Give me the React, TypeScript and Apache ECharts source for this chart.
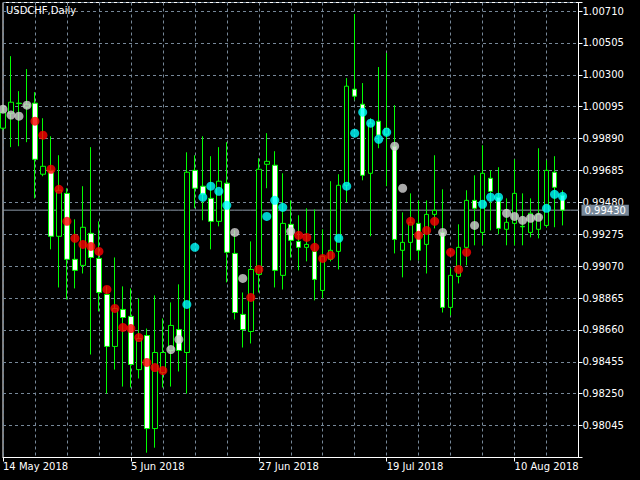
import React, { useEffect, useRef } from 'react';
import * as echarts from 'echarts';

const FONT = 'DejaVu Sans';
const chartTitle = 'USDCHF,Daily';
const startDate = '2018-05-14';
const categoryCount = 73; // 71 daily bars + right-side shift

const opens = [
  0.99957, 1.00053, 1.00118, 1.00092, 1.00118, 0.99661, 0.99686, 0.99262, 0.99538, 0.99114,
  0.99075, 0.99281, 0.99120, 0.98888, 0.98554, 0.98792, 0.98747, 0.98405, 0.98624, 0.98026,
  0.98386, 0.98528, 0.98663, 0.98515, 0.99686, 0.99584, 0.99506, 0.99358, 0.99603, 0.99152,
  0.98760, 0.98650, 0.99017, 0.99725, 0.99719, 0.99011, 0.99339, 0.99229, 0.99191, 0.99165,
  0.98914, 0.99114, 0.99165, 0.99590, 1.00208, 1.00111, 0.99667, 1.00002, 0.99918, 0.99841,
  0.99172, 0.99223, 0.99345, 0.99210, 0.99403, 0.99287, 0.98805, 0.99004, 0.99191, 0.99493,
  0.99287, 0.99635, 0.99513, 0.99307, 0.99345, 0.99326, 0.99287, 0.99307, 0.99332, 0.99674,
  0.99526,
];
const closes = [
  1.00060, 1.00124, 1.00115, 1.00111, 0.99757, 0.99712, 0.99262, 0.99558, 0.99114, 0.99043,
  0.99320, 0.99126, 0.98901, 0.98554, 0.98798, 0.98740, 0.98438, 0.98605, 0.98026, 0.98515,
  0.98515, 0.98689, 0.98528, 0.99674, 0.99571, 0.99532, 0.99358, 0.99616, 0.99159, 0.98772,
  0.98663, 0.99049, 0.99693, 0.99744, 0.99043, 0.99345, 0.99236, 0.99191, 0.99210, 0.98985,
  0.99133, 0.99172, 0.99590, 1.00227, 1.00163, 0.99654, 0.99989, 0.99912, 0.99957, 0.99242,
  0.99223, 0.99352, 0.99172, 0.99403, 0.99429, 0.98805, 0.99011, 0.99191, 0.99493, 0.99442,
  0.99667, 0.99551, 0.99313, 0.99352, 0.99538, 0.99323, 0.99410, 0.99403, 0.99686, 0.99577,
  0.99430,
];
const lows = [
  0.99944, 0.99835, 0.99841, 0.99867, 0.99506, 0.99648, 0.99178, 0.98933, 0.98856, 0.98927,
  0.99023, 0.98502, 0.98779, 0.98251, 0.98405, 0.98296, 0.98290, 0.98348, 0.97871, 0.97903,
  0.98290, 0.98296, 0.98393, 0.98251, 0.99442, 0.99365, 0.99178, 0.99326, 0.98966, 0.98727,
  0.98547, 0.98573, 0.98901, 0.99571, 0.98933, 0.98920, 0.99126, 0.99043, 0.99101, 0.98850,
  0.98863, 0.99101, 0.99049, 0.99480, 1.00137, 0.99622, 0.99262, 0.99828, 0.99584, 0.99152,
  0.98998, 0.99107, 0.99107, 0.99023, 0.99313, 0.98772, 0.98753, 0.98959, 0.99075, 0.99204,
  0.99204, 0.99300, 0.99275, 0.99204, 0.99204, 0.99204, 0.99255, 0.99249, 0.99320, 0.99320,
  0.99332,
];
const highs = [
  1.00098, 1.00420, 1.00195, 1.00337, 1.00189, 1.00021, 0.99905, 0.99783, 0.99571, 0.99371,
  0.99584, 0.99835, 0.99358, 0.98940, 0.99126, 0.98940, 0.98927, 0.98863, 0.98669, 0.98882,
  0.98734, 0.98837, 0.98953, 0.99802, 0.99783, 0.99905, 0.99777, 0.99835, 0.99867, 0.99300,
  0.98901, 0.99229, 0.99764, 0.99925, 0.99809, 0.99667, 0.99493, 0.99397, 0.99442, 0.99435,
  0.99307, 0.99616, 0.99661, 1.00279, 1.00691, 1.00247, 1.00021, 1.00350, 1.00440, 1.00105,
  0.99416, 0.99538, 0.99493, 0.99493, 0.99783, 0.99564, 0.99056, 0.99339, 0.99558, 0.99654,
  0.99847, 0.99686, 0.99706, 0.99506, 0.99757, 0.99538, 0.99506, 0.99828, 0.99751, 0.99777,
  0.99558,
];
const dotValues = [
  1.00079, 1.00041, 1.00034, 1.00105, 1.00002, 0.99912, 0.99693, 0.99564, 0.99358, 0.99249,
  0.99210, 0.99197, 0.99165, 0.98920, 0.98798, 0.98676, 0.98669, 0.98611, 0.98451, 0.98418,
  0.98399, 0.98534, 0.98599, 0.98824, 0.99191, 0.99513, 0.99584, 0.99551, 0.99461, 0.99287,
  0.98991, 0.98869, 0.99049, 0.99390, 0.99493, 0.99448, 0.99294, 0.99268, 0.99255, 0.99191,
  0.99120, 0.99139, 0.99249, 0.99584, 0.99925, 1.00060, 0.99989, 0.99886, 0.99931, 0.99841,
  0.99571, 0.99358, 0.99268, 0.99300, 0.99358, 0.99287, 0.99159, 0.99049, 0.99159, 0.99332,
  0.99468, 0.99513, 0.99513, 0.99410, 0.99390, 0.99365, 0.99378, 0.99384, 0.99442, 0.99532,
  0.99519,
];
// g = neutral (gray), r = down (red), c = up (cyan)
const dotTrend = [
  'g', 'g', 'g', 'g', 'r', 'r', 'r', 'r', 'r', 'r',
  'r', 'r', 'r', 'r', 'r', 'r', 'r', 'r', 'r', 'r',
  'r', 'g', 'g', 'c', 'c', 'c', 'c', 'c', 'c', 'g',
  'g', 'r', 'r', 'c', 'c', 'c', 'g', 'r', 'r', 'r',
  'r', 'r', 'c', 'c', 'c', 'c', 'c', 'c', 'c', 'g',
  'g', 'r', 'r', 'r', 'r', 'g', 'r', 'r', 'r', 'g',
  'c', 'c', 'c', 'g', 'g', 'g', 'g', 'g', 'c', 'c',
  'c',
];
const trendColors: Record<string, string> = { g: '#d3d3d3', r: '#ff0000', c: '#00ffff' };

const yMin = 0.9784;
const yMax = 1.00765;
const yInterval = 0.00205;
const lastPrice = 0.9943;

const MONTHS = ['Jan', 'Feb', 'Mar', 'Apr', 'May', 'Jun', 'Jul', 'Aug', 'Sep', 'Oct', 'Nov', 'Dec'];

function tradingDays(start: string, n: number): string[] {
  const d = new Date(start + 'T00:00:00Z');
  const out: string[] = [];
  while (out.length < n) {
    const wd = d.getUTCDay();
    if (wd !== 0 && wd !== 6) {
      out.push(`${d.getUTCDate()} ${MONTHS[d.getUTCMonth()]} ${d.getUTCFullYear()}`);
    }
    d.setUTCDate(d.getUTCDate() + 1);
  }
  return out;
}

export default function App() {
  const ref = useRef<HTMLDivElement>(null);

  useEffect(() => {
    if (!ref.current) return;
    const chart = echarts.init(ref.current, undefined, { renderer: 'svg' });
    const categories = tradingDays(startDate, categoryCount);
    const candles = opens.map((o, i) => [o, closes[i], lows[i], highs[i]]);
    const dots = dotValues.map((v, i) => ({
      value: v,
      itemStyle: { color: trendColors[dotTrend[i]] },
    }));
    const priceLine = categories.map(() => lastPrice);

    chart.setOption({
      animation: false,
      backgroundColor: '#000000',
      title: {
        text: chartTitle,
        left: 6,
        top: 5,
        padding: 0,
        textStyle: { color: '#ffffff', fontSize: 10, fontWeight: 'normal', fontFamily: FONT },
      },
      grid: {
        left: 2.5,
        right: 61.5,
        top: 2.5,
        bottom: 22.5,
        show: true,
        borderColor: '#ffffff',
        borderWidth: 1,
        backgroundColor: '#000000',
      },
      xAxis: {
        type: 'category',
        data: categories,
        boundaryGap: false,
        axisLine: { show: true, lineStyle: { color: '#ffffff', width: 1 } },
        axisTick: { show: true, interval: 15, length: 4, lineStyle: { color: '#ffffff' } },
        axisLabel: {
          interval: 15,
          align: 'left',
          color: '#ffffff',
          fontSize: 10,
          fontFamily: FONT,
          margin: 4,
        },
        splitLine: {
          show: true,
          interval: 3,
          lineStyle: { color: '#778899', width: 1, type: [3, 3] },
        },
      },
      yAxis: {
        type: 'value',
        position: 'right',
        min: yMin,
        max: yMax,
        interval: yInterval,
        axisLine: { show: true, lineStyle: { color: '#ffffff', width: 1 } },
        axisTick: { show: true, length: 4, lineStyle: { color: '#ffffff' } },
        axisLabel: {
          color: '#ffffff',
          fontSize: 10,
          fontFamily: FONT,
          margin: 4,
          formatter: (v: number) => (v < 0.98 || v > 1.0072 ? '' : v.toFixed(5)),
        },
        splitLine: { show: true, lineStyle: { color: '#778899', width: 1, type: [3, 3] } },
      },
      series: [
        {
          type: 'line',
          data: priceLine,
          symbol: 'none',
          silent: true,
          lineStyle: { color: '#8a98a8', width: 1, type: 'solid' },
          z: 1,
          endLabel: {
            show: true,
            distance: 3,
            formatter: () => lastPrice.toFixed(5),
            color: '#ffffff',
            backgroundColor: '#778899',
            padding: [1, 3, 0, 3],
            fontSize: 10,
            fontFamily: FONT,
          },
          emphasis: { disabled: true },
        },
        {
          type: 'candlestick',
          data: candles,
          barWidth: 5,
          itemStyle: {
            color: '#000000',
            color0: '#ffffff',
            borderColor: '#00ff00',
            borderColor0: '#00ff00',
            borderColorDoji: '#00ff00',
            borderWidth: 1,
          },
          z: 3,
        },
        {
          type: 'scatter',
          data: dots,
          symbol: 'circle',
          symbolSize: 9,
          clip: false,
          z: 4,
        },
      ],
    });

    return () => {
      chart.dispose();
    };
  }, []);

  return (
    <div
      ref={ref}
      style={{ position: 'fixed', left: 0, top: 0, width: 640, height: 480, background: '#000' }}
    />
  );
}
